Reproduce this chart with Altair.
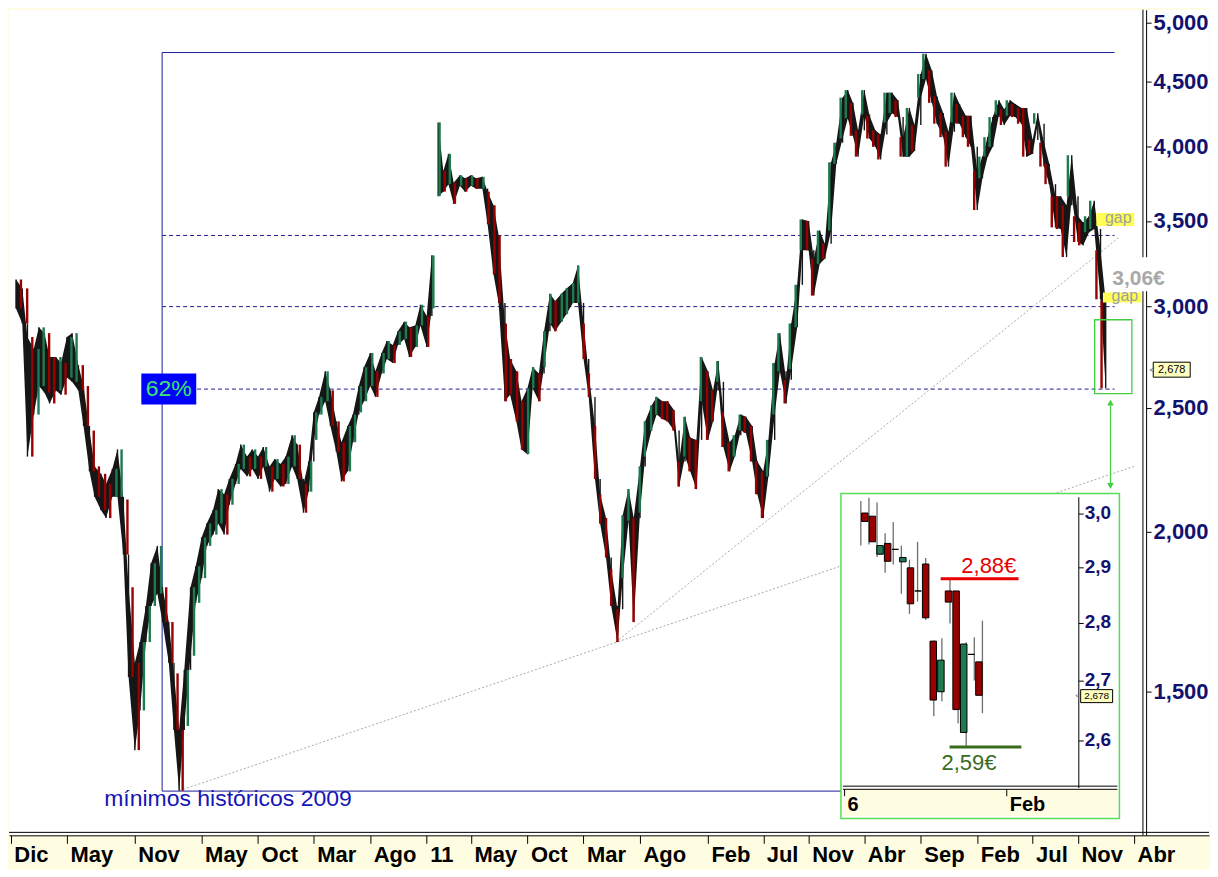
import json
import altair as alt
import pandas as pd

# ------------------------------------------------------------------
# Data
# ------------------------------------------------------------------
# Main chart: price range (high / low, EUR) of each half month,
# samples on the 1st and 15th of every month.
FIRST_SAMPLE = "2007-12-15"
LAST_SAMPLE = "2016-01-15"
HIGH = [
    3.15,
    3.10, 2.84, 2.78, 2.89, 2.86, 2.74, 2.74, 2.71, 2.84, 2.86, 2.70, 2.60,
    2.40, 2.25, 2.22, 2.18, 2.24, 2.32, 2.12, 1.81, 1.58, 1.64, 1.75, 1.89,
    1.95, 1.81, 1.70, 1.55, 1.40, 1.56, 1.81, 1.88, 1.98, 2.03, 2.08, 2.16,
    2.14, 2.20, 2.26, 2.34, 2.29, 2.32, 2.29, 2.33, 2.25, 2.28, 2.26, 2.29,
    2.38, 2.34, 2.18, 2.27, 2.48, 2.55, 2.67, 2.58, 2.44, 2.35, 2.42, 2.47,
    2.60, 2.69, 2.76, 2.67, 2.76, 2.82, 2.80, 2.87, 2.92, 2.89, 2.90, 3.01,
    2.95, 3.29, 4.18, 3.83, 3.95, 3.75, 3.80, 3.78, 3.80, 3.78, 3.79, 3.69,
    3.60, 3.41, 2.91, 2.73, 2.67, 2.53, 2.59, 2.69, 2.66, 2.87, 3.07, 3.03,
    3.07, 3.10, 3.13, 3.23, 2.91, 2.66, 2.42, 2.14, 2.05, 1.87, 1.74, 2.06,
    2.16, 2.05, 2.25, 2.44, 2.51, 2.55, 2.53, 2.53, 2.49, 2.27, 2.46, 2.37,
    2.36, 2.74, 2.67, 2.58, 2.72, 2.48, 2.35, 2.38, 2.47, 2.46, 2.42, 2.27,
    2.23, 2.36, 2.71, 2.86, 2.63, 2.91, 3.12, 3.51, 3.50, 3.27, 3.44, 3.36,
    3.89, 4.03, 4.37, 4.43, 4.33, 4.12, 4.43, 4.23, 4.12, 4.09, 4.41, 4.41,
    4.35, 4.07, 4.29, 4.16, 4.56, 4.73, 4.59, 4.38, 4.25, 4.11, 4.41, 4.32,
    4.23, 4.23, 3.83, 3.93, 4.07, 4.22, 4.35, 4.28, 4.35, 4.32, 4.29, 4.29,
    4.05, 4.25, 4.03, 3.88, 3.66, 3.66, 3.60, 3.94, 3.53, 3.49, 3.53, 3.63,
    3.32, 3.03,
]
LOW = [
    2.99,
    2.91, 2.29, 2.47, 2.60, 2.57, 2.52, 2.58, 2.56, 2.64, 2.62, 2.58, 2.42,
    2.23, 2.13, 2.08, 2.05, 2.13, 2.13, 1.92, 1.54, 1.35, 1.45, 1.64, 1.75,
    1.79, 1.70, 1.58, 1.40, 1.255, 1.41, 1.60, 1.76, 1.84, 1.95, 1.99, 2.03,
    1.99, 2.10, 2.18, 2.24, 2.21, 2.24, 2.20, 2.25, 2.15, 2.20, 2.17, 2.18,
    2.25, 2.20, 2.07, 2.15, 2.36, 2.47, 2.53, 2.42, 2.31, 2.19, 2.23, 2.35,
    2.48, 2.53, 2.60, 2.55, 2.66, 2.73, 2.71, 2.80, 2.83, 2.74, 2.79, 2.90,
    2.79, 2.99, 3.66, 3.69, 3.74, 3.61, 3.73, 3.69, 3.73, 3.71, 3.71, 3.48,
    3.18, 3.02, 2.53, 2.56, 2.44, 2.32, 2.30, 2.59, 2.53, 2.69, 2.91, 2.87,
    2.92, 2.96, 3.02, 3.02, 2.73, 2.55, 2.20, 2.03, 1.91, 1.75, 1.64, 1.84,
    2.04, 1.70, 2.07, 2.29, 2.40, 2.47, 2.45, 2.44, 2.40, 2.17, 2.29, 2.23,
    2.16, 2.53, 2.36, 2.44, 2.62, 2.33, 2.23, 2.29, 2.40, 2.39, 2.27, 2.14,
    2.05, 2.21, 2.47, 2.67, 2.52, 2.68, 2.89, 3.32, 3.32, 3.06, 3.24, 3.27,
    3.44, 3.88, 4.06, 4.21, 4.08, 3.93, 4.24, 4.06, 4.00, 3.91, 4.18, 4.25,
    4.22, 3.93, 3.93, 3.97, 4.37, 4.52, 4.33, 4.17, 4.07, 3.86, 4.18, 4.17,
    4.07, 4.00, 3.57, 3.78, 3.93, 4.00, 4.24, 4.16, 4.23, 4.22, 4.17, 3.93,
    3.95, 4.17, 3.86, 3.74, 3.46, 3.45, 3.28, 3.66, 3.37, 3.35, 3.43, 3.45,
    3.04, 2.59,
]
GAP_DATES = ["2011-02-01"]   # opening gap: price path is not joined across it

TICK_DATES = ["2007-12-01", "2008-05-01", "2008-11-01", "2009-05-01", "2009-10-01",
              "2010-03-01", "2010-08-01", "2011-01-01", "2011-05-01", "2011-10-01",
              "2012-03-01", "2012-08-01", "2013-02-01", "2013-07-01", "2013-11-01",
              "2014-04-01", "2014-09-01", "2015-02-01", "2015-07-01", "2015-11-01",
              "2016-04-01"]
TICK_LABELS = ["Dic", "May", "Nov", "May", "Oct", "Mar", "Ago", "11", "May", "Oct",
               "Mar", "Ago", "Feb", "Jul", "Nov", "Abr", "Sep", "Feb", "Jul", "Nov", "Abr"]
Y_TICKS = [1.5, 2.0, 2.5, 3.0, 3.5, 4.0, 4.5, 5.0]

# Fibonacci box: 2009 low -> 2014 high, retracement levels 38.2 / 50 / 61.8 %
FIB_START, FIB_END = "2009-01-14", "2016-02-08"
FIB_LOW, FIB_HIGH = 1.254, 4.74
FIB_LEVELS = [3.41, 3.00, 2.586]

# Trend lines (start date, start price, end date, end price)
TREND_D1 = ["2009-03-02", "2012-05-28"]
TREND_V1 = [1.255, 1.64]
TREND_D2 = ["2016-04-01", "2016-02-21"]
TREND_V2 = [2.25, 3.40]

LAST_PRICE = 2.678

# Inset: daily candles of January 2016
INSET_DAYS = ["2016-01-06", "2016-01-07", "2016-01-08", "2016-01-11", "2016-01-12",
              "2016-01-13", "2016-01-14", "2016-01-15", "2016-01-18", "2016-01-19",
              "2016-01-20", "2016-01-21", "2016-01-22", "2016-01-25", "2016-01-26",
              "2016-01-27"]
INSET_OPEN = [3.002, 2.996, 2.925, 2.945, 2.934, 2.911, 2.900, 2.858, 2.907, 2.769,
              2.682, 2.858, 2.858, 2.614, 2.746, 2.733]
INSET_HIGH = [3.025, 3.031, 3.022, 2.964, 2.985, 2.941, 2.915, 2.948, 2.918, 2.770,
              2.774, 2.881, 2.858, 2.767, 2.776, 2.805]
INSET_LOW = [2.941, 2.943, 2.920, 2.891, 2.906, 2.853, 2.817, 2.839, 2.806, 2.641,
             2.666, 2.800, 2.629, 2.589, 2.701, 2.646]
INSET_CLOSE = [2.986, 2.948, 2.941, 2.912, 2.934, 2.919, 2.835, 2.858, 2.810, 2.668,
               2.736, 2.838, 2.652, 2.764, 2.746, 2.676]
INSET_Y_TICKS = [2.6, 2.7, 2.8, 2.9, 3.0]
INSET_Y_LABELS = ["2,6", "2,7", "2,8", "2,9", "3,0"]
INSET_X_TICKS = [-2, 18]          # session index: 4 Jan 2016 and 1 Feb 2016
INSET_X_LABELS = ["6", "Feb"]
RESISTANCE, SUPPORT = 2.88, 2.59

# ------------------------------------------------------------------
# Styles
# ------------------------------------------------------------------
FONT = "Liberation Sans"
NAVY = "#1c1c96"
AXNAVY = "#12126e"
RED = "#990000"
GREEN = "#1e7a4f"
LIME = "#44cc44"
STRIP = "#FFFDE1"
W, H = 1202, 827


def ms(d):
    return int(pd.Timestamp(d).value // 10**6)


def rect_shape(w, h):
    r = h / w
    return f"M-1,-{r:.4f}L1,-{r:.4f}L1,{r:.4f}L-1,{r:.4f}Z"


X_DOMAIN = [ms("2007-11-26"), ms("2016-10-21")]
Y_DOMAIN = [1.158, 5.12]
color_scale = alt.Scale(domain=["down", "up"], range=[RED, GREEN])

tick_ms = [ms(d) for d in TICK_DATES]
x_axis = alt.Axis(
    values=tick_ms,
    labelExpr=f"{json.dumps(TICK_LABELS)}[indexof({json.dumps(tick_ms)}, +datum.value)]",
    title=None, grid=False, domainColor="black", domainWidth=1,
    tickColor="black", tickSize=8, tickWidth=1,
    labelFont=FONT, labelFontSize=22, labelFontWeight="bold", labelColor="black",
    labelAlign="left", labelBaseline="top", labelOffset=3, labelPadding=1,
    labelFlush=False, labelOverlap=False, labelBound=False,
)
y_axis = alt.Axis(
    orient="right", offset=-63, values=Y_TICKS,
    labelExpr="replace(format(datum.value, '.3f'), '.', ',')",
    title=None, grid=False, domainColor="black", domainWidth=1,
    tickColor="black", tickSize=5, labelPadding=2,
    labelFont=FONT, labelFontSize=22, labelFontWeight="bold", labelColor=AXNAVY,
    labelAlign="left", labelBaseline="middle",
    labelFlush=False, labelOverlap=False, labelBound=False,
)


def X(f, axis=None):
    return alt.X(f, type="temporal", scale=alt.Scale(domain=X_DOMAIN, nice=False), axis=axis)


def Y(f, axis=None):
    return alt.Y(f, type="quantitative", scale=alt.Scale(type="log", domain=Y_DOMAIN, nice=False), axis=axis)


# ---------------- main chart tables ----------------
dates = pd.date_range(FIRST_SAMPLE, LAST_SAMPLE, freq="SMS")
assert len(dates) == len(HIGH) == len(LOW)
cdf = pd.DataFrame({"date": dates.strftime("%Y-%m-%d"), "high": HIGH, "low": LOW})
mid = (cdf["high"] + cdf["low"]) / 2
cdf["dir"] = ["up" if i > 0 and mid[i] >= mid[i - 1] else "down" for i in range(len(cdf))]
seg, s = [], 0
for d in cdf["date"]:
    if d in GAP_DATES:
        s += 1
    seg.append(s)
cdf["seg"] = seg
# wick joining each half month to the previous one (continuous price path)
wlo, whi = [], []
for i in range(len(cdf)):
    lo, hi = cdf["low"][i], cdf["high"][i]
    if i > 0 and cdf["date"][i] not in GAP_DATES:
        lo = min(lo, cdf["high"][i - 1])
        hi = max(hi, cdf["low"][i - 1])
    wlo.append(lo)
    whi.append(hi)
cdf["wlo"], cdf["whi"] = wlo, whi

trend_df = pd.DataFrame({"d1": TREND_D1, "v1": TREND_V1, "d2": TREND_D2, "v2": TREND_V2})
fib_df = pd.DataFrame({"d1": FIB_START, "d2": FIB_END, "v": FIB_LEVELS})
box_df = pd.DataFrame({
    "d1": [FIB_START, FIB_START, FIB_START],
    "d2": [FIB_END, FIB_END, FIB_START],
    "v1": [FIB_HIGH, FIB_LOW, FIB_LOW],
    "v2": [FIB_HIGH, FIB_LOW, FIB_HIGH],
})

layers = []
layers.append(alt.Chart(trend_df).mark_rule(color="#a8a8a8", strokeWidth=1, strokeDash=[2, 2]).encode(
    x=X("d1"), x2="d2:T", y=Y("v1"), y2="v2:Q"))
layers.append(alt.Chart(fib_df).mark_rule(color=NAVY, strokeWidth=1, strokeDash=[4, 3]).encode(
    x=X("d1"), x2="d2:T", y=Y("v")))
layers.append(alt.Chart(box_df).mark_rule(color=NAVY, strokeWidth=1).encode(
    x=X("d1"), x2="d2:T", y=Y("v1"), y2="v2:Q"))
# price band (dense daily candles read as a dark band), axes live on this layer
layers.append(alt.Chart(cdf).mark_area(color="#161616", interpolate="linear", opacity=1).encode(
    x=X("date:T", axis=x_axis), y=Y("low:Q", axis=y_axis), y2="high:Q", detail="seg:N"))
layers.append(alt.Chart(cdf).mark_rule(color="#161616", strokeWidth=1.4).encode(
    x=X("date:T"), y=Y("wlo:Q"), y2="whi:Q"))
layers.append(alt.Chart(cdf).mark_bar(size=2.4, strokeWidth=0).encode(
    x=X("date:T"), y=Y("low:Q"), y2="high:Q",
    color=alt.Color("dir:N", scale=color_scale, legend=None)))

# frame lines next to the axes (double lines)
layers.append(alt.Chart(pd.DataFrame({"d": ["2016-04-25"]})).mark_rule(color="black", strokeWidth=1).encode(
    x=X("d:T")))
layers.append(alt.Chart(pd.DataFrame({"v": [1.1642]})).mark_rule(color="black", strokeWidth=1).encode(
    y=Y("v:Q")))

# green zoom box + arrow
layers.append(alt.Chart(pd.DataFrame({"d1": ["2015-12-16"], "d2": ["2016-03-26"], "v1": [2.565], "v2": [2.93]}))
              .mark_rect(fillOpacity=0, stroke=LIME, strokeWidth=1.3)
              .encode(x=X("d1:T"), x2="d2:T", y=Y("v1:Q"), y2="v2:Q"))
layers.append(alt.Chart(pd.DataFrame({"d": ["2016-01-28"], "v1": [2.52], "v2": [2.178]}))
              .mark_rule(color=LIME, strokeWidth=1.2).encode(x=X("d:T"), y=Y("v1:Q"), y2="v2:Q"))
layers.append(alt.Chart(pd.DataFrame({"d": ["2016-01-28"], "v": [2.524]}))
              .mark_point(shape="triangle-up", size=45, filled=True, color=LIME, opacity=1)
              .encode(x=X("d:T"), y=Y("v:Q")))
layers.append(alt.Chart(pd.DataFrame({"d": ["2016-01-28"], "v": [2.172]}))
              .mark_point(shape="triangle-down", size=45, filled=True, color=LIME, opacity=1)
              .encode(x=X("d:T"), y=Y("v:Q")))

# labels on the right side
layers.append(alt.Chart(pd.DataFrame({"d": ["2016-04-10"], "v": [3.18]}))
              .mark_point(shape=rect_shape(60, 34), size=3600, filled=True, color="white", opacity=1)
              .encode(x=X("d:T"), y=Y("v:Q")))
gap_df = pd.DataFrame({"d": ["2016-02-10", "2016-02-28"], "v": [3.51, 3.05]})
layers.append(alt.Chart(gap_df.iloc[[0]])
              .mark_point(shape=rect_shape(38, 13), size=38 * 38, filled=True, color="#ffff55", opacity=1)
              .encode(x=X("d:T"), y=Y("v:Q")))
layers.append(alt.Chart(gap_df.iloc[[1]])
              .mark_point(shape=rect_shape(38, 10), size=38 * 38, filled=True, color="#ffff55", opacity=1)
              .encode(x=X("d:T"), y=Y("v:Q")))
layers.append(alt.Chart(gap_df).mark_text(font=FONT, fontSize=16, color="#a0a0a0", dx=3, dy=-1)
              .encode(x=X("d:T"), y=Y("v:Q"), text=alt.value("gap")))
layers.append(alt.Chart(pd.DataFrame({"d": ["2016-02-02"], "v": [3.14]}))
              .mark_text(font=FONT, fontSize=21, fontWeight="bold", color="#a8a8a8", align="left",
                         baseline="middle", dy=-2)
              .encode(x=X("d:T"), y=Y("v:Q"), text=alt.value("3,06€")))

tag_df = pd.DataFrame({"d": ["2016-07-12"], "v": [LAST_PRICE], "t": ["2,678"]})
layers.append(alt.Chart(tag_df)
              .mark_point(shape=rect_shape(37, 15), size=37 * 37, filled=True, fill="#ffffc0",
                          stroke="black", strokeWidth=1, opacity=1)
              .encode(x=X("d:T"), y=Y("v:Q")))
layers.append(alt.Chart(tag_df).mark_text(font=FONT, fontSize=11, color="black")
              .encode(x=X("d:T"), y=Y("v:Q"), text="t:N"))
layers.append(alt.Chart(pd.DataFrame({"d": ["2016-05-20"], "v": [LAST_PRICE]}))
              .mark_text(font=FONT, fontSize=9, color="#666666")
              .encode(x=X("d:T"), y=Y("v:Q"), text=alt.value("<")))

# 62% label
fib_lbl_df = pd.DataFrame({"d": ["2009-02-01"], "v": [FIB_LEVELS[2]]})
layers.append(alt.Chart(fib_lbl_df)
              .mark_point(shape=rect_shape(55, 31), size=55 * 55, filled=True, color="#0000ff", opacity=1)
              .encode(x=X("d:T"), y=Y("v:Q")))
layers.append(alt.Chart(fib_lbl_df).mark_text(font=FONT, fontSize=23, color="#3ee56e")
              .encode(x=X("d:T"), y=Y("v:Q"), text=alt.value("62%")))

layers.append(alt.Chart(pd.DataFrame({"d": ["2008-08-10"], "v": [1.236]}))
              .mark_text(font=FONT, fontSize=23, color="#1515b5", align="left", baseline="middle")
              .encode(x=X("d:T"), y=Y("v:Q"), text=alt.value("mínimos históricos 2009")))

# ---------------- inset (own scales placed on a sub-range of the view) ----------------
IX_DOMAIN, IX_RANGE = [-2, 18], [837.0, 999.4]
IY_DOMAIN, IY_RANGE = [2.6, 3.0], [732.5, 505.2]


def IX(f):
    return alt.X(f, type="quantitative",
                 scale=alt.Scale(domain=IX_DOMAIN, range=IX_RANGE, nice=False, zero=False), axis=None)


def IY(f):
    return alt.Y(f, type="quantitative",
                 scale=alt.Scale(type="log", domain=IY_DOMAIN, range=IY_RANGE, nice=False), axis=None)


idf = pd.DataFrame({"day": INSET_DAYS, "o": INSET_OPEN, "h": INSET_HIGH, "l": INSET_LOW, "c": INSET_CLOSE})
idf["i"] = range(len(idf))
idf["dir"] = ["up" if c > o else "down" for o, c in zip(idf["o"], idf["c"])]

frame_df = pd.DataFrame({"x1": [-2.45], "x2": [31.9], "y1": [2.476], "y2": [3.039]})
layers.append(alt.Chart(frame_df).mark_rect(fill="white").encode(
    x=IX("x1:Q"), x2="x2:Q", y=IY("y1:Q"), y2="y2:Q"))
layers.append(alt.Chart(pd.DataFrame({"x1": [-2.21], "x2": [31.65], "y1": [2.479], "y2": [2.522]}))
              .mark_rect(fill=STRIP).encode(x=IX("x1:Q"), x2="x2:Q", y=IY("y1:Q"), y2="y2:Q"))
layers.append(alt.Chart(pd.DataFrame({"x1": [-2.21, -2.21], "x2": [31.65, 31.65], "v": [2.522, 2.527]}))
              .mark_rule(color="black", strokeWidth=1).encode(x=IX("x1:Q"), x2="x2:Q", y=IY("v:Q")))
ixt_df = pd.DataFrame({"i": INSET_X_TICKS, "t": INSET_X_LABELS, "v1": 2.522, "v2": 2.511, "vl": 2.497})
layers.append(alt.Chart(ixt_df).mark_rule(color="black", strokeWidth=1).encode(
    x=IX("i:Q"), y=IY("v1:Q"), y2="v2:Q"))
layers.append(alt.Chart(ixt_df)
              .mark_text(font=FONT, fontSize=20, fontWeight="bold", color="black", align="left",
                         baseline="middle", dx=3)
              .encode(x=IX("i:Q"), y=IY("vl:Q"), text="t:N"))

layers.append(alt.Chart(pd.DataFrame({"x": [26.89], "v1": [2.524], "v2": [3.032]}))
              .mark_rule(color="black", strokeWidth=1).encode(x=IX("x:Q"), y=IY("v1:Q"), y2="v2:Q"))
iyt_df = pd.DataFrame({"v": INSET_Y_TICKS, "t": INSET_Y_LABELS, "x1": 26.89, "x2": 27.5, "xl": 27.62})
layers.append(alt.Chart(iyt_df).mark_rule(color="black", strokeWidth=1).encode(
    x=IX("x1:Q"), x2="x2:Q", y=IY("v:Q")))
layers.append(alt.Chart(iyt_df)
              .mark_text(font=FONT, fontSize=19, fontWeight="bold", color=AXNAVY, align="left",
                         baseline="middle", dy=-1)
              .encode(x=IX("xl:Q"), y=IY("v:Q"), text="t:N"))

layers.append(alt.Chart(idf).mark_rule(color="#6f6f6f", strokeWidth=1.3).encode(
    x=IX("i:Q"), y=IY("l:Q"), y2="h:Q"))
layers.append(alt.Chart(idf).mark_bar(size=6.5, stroke="black", strokeWidth=1).encode(
    x=IX("i:Q"), y=IY("o:Q"), y2="c:Q",
    color=alt.Color("dir:N", scale=color_scale, legend=None)))

lv_df = pd.DataFrame({"x1": [9.85, 10.95], "x2": [19.46, 19.8], "v": [RESISTANCE, SUPPORT],
                      "t": ["2,88€", "2,59€"], "xt": [12.4, 9.96]})
layers.append(alt.Chart(lv_df.iloc[[0]]).mark_rule(color="#e60000", strokeWidth=3).encode(
    x=IX("x1:Q"), x2="x2:Q", y=IY("v:Q")))
layers.append(alt.Chart(lv_df.iloc[[1]]).mark_rule(color="#3a6b1e", strokeWidth=3).encode(
    x=IX("x1:Q"), x2="x2:Q", y=IY("v:Q")))
layers.append(alt.Chart(lv_df.iloc[[0]])
              .mark_text(font=FONT, fontSize=22, color="#e60000", align="left", baseline="alphabetic", dy=-6)
              .encode(x=IX("xt:Q"), y=IY("v:Q"), text="t:N"))
layers.append(alt.Chart(lv_df.iloc[[1]])
              .mark_text(font=FONT, fontSize=22, color="#3a6b1e", align="left", baseline="alphabetic", dy=23)
              .encode(x=IX("xt:Q"), y=IY("v:Q"), text="t:N"))

itag_df = pd.DataFrame({"x": [29.09], "v": [LAST_PRICE], "t": ["2,678"]})
layers.append(alt.Chart(itag_df)
              .mark_point(shape=rect_shape(32, 13), size=32 * 32, filled=True, fill="#ffffc0",
                          stroke="black", strokeWidth=1, opacity=1)
              .encode(x=IX("x:Q"), y=IY("v:Q"), yOffset=alt.value(2)))
layers.append(alt.Chart(itag_df).mark_text(font=FONT, fontSize=10, color="black", dy=2)
              .encode(x=IX("x:Q"), y=IY("v:Q"), text="t:N"))
layers.append(alt.Chart(pd.DataFrame({"x": [26.75], "v": [LAST_PRICE]}))
              .mark_text(font=FONT, fontSize=8, color="#666666", dy=2)
              .encode(x=IX("x:Q"), y=IY("v:Q"), text=alt.value("<")))

layers.append(alt.Chart(frame_df).mark_rect(fillOpacity=0, stroke="#55dd55", strokeWidth=1.5).encode(
    x=IX("x1:Q"), x2="x2:Q", y=IY("y1:Q"), y2="y2:Q"))

chart = alt.layer(*layers).resolve_scale(
    x="independent", y="independent"
).properties(
    width=W, height=H,
    padding={"left": 0, "top": 0, "right": 0, "bottom": 4},
    background=STRIP,
).configure_view(stroke=None, fill="white")

chart.save("out.html", embed_options={"renderer": "svg", "actions": False})
